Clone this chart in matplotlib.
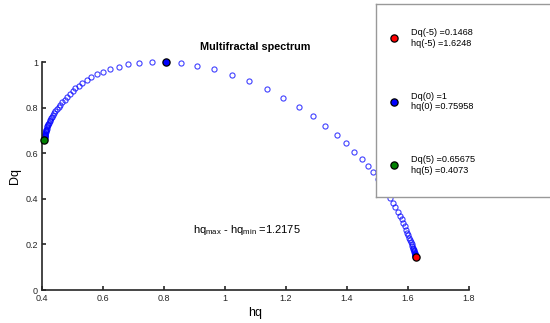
import numpy as np
import matplotlib.pyplot as plt
from matplotlib.ticker import FormatStrFormatter

plt.rcParams['font.family'] = ['Liberation Sans', 'DejaVu Sans']
plt.rcParams['mathtext.fontset'] = 'custom'
plt.rcParams['mathtext.rm'] = 'Liberation Sans'
plt.rcParams['mathtext.it'] = 'Liberation Sans:italic'

# spectrum points, q = -5 ... 5 (step 0.1)
hq = [1.6248, 1.6245, 1.6241, 1.6237, 1.6232, 1.6227, 1.6221, 1.6214, 1.6206, 1.6196,
      1.6185, 1.6172, 1.6157, 1.6140, 1.6121, 1.6099, 1.6074, 1.6046, 1.6013, 1.5977,
      1.5937, 1.5892, 1.5842, 1.5788, 1.5727, 1.5661, 1.5588, 1.5508, 1.5421,
      1.5351, 1.5256, 1.5141, 1.5010, 1.4862, 1.4689, 1.4482, 1.4239, 1.3967, 1.3656,
      1.3289, 1.2885, 1.2426, 1.1911, 1.1377, 1.0803, 1.0230, 0.9649, 0.9082, 0.8548,
      0.8056,
      0.7597,
      0.7190, 0.6836, 0.6525, 0.6239, 0.6010, 0.5793, 0.5616, 0.5466, 0.5321, 0.5203,
      0.5092, 0.5013,
      0.4911, 0.4819, 0.4738, 0.4664, 0.4600, 0.4541, 0.4489, 0.4442, 0.4401, 0.4363,
      0.4331, 0.4301, 0.4275, 0.4251, 0.4230, 0.4211, 0.4195, 0.4180, 0.4167, 0.4155,
      0.4144, 0.4135, 0.4127, 0.4120, 0.4113, 0.4107, 0.4102, 0.4098, 0.4093, 0.4090,
      0.4087, 0.4084, 0.4081, 0.4079, 0.4078, 0.4076, 0.4074, 0.4073]
Dq = [0.1468, 0.1482, 0.1498, 0.1517, 0.1538, 0.1561, 0.1589, 0.1621, 0.1659, 0.1701,
      0.1747, 0.1801, 0.1861, 0.1929, 0.2003, 0.2087, 0.2180, 0.2283, 0.2395, 0.2516,
      0.2646, 0.2786, 0.2935, 0.3093, 0.3261, 0.3438, 0.3625, 0.3820, 0.4025,
      0.4197, 0.4404, 0.4636, 0.4890, 0.5162, 0.5452, 0.5746, 0.6066, 0.6434, 0.6807,
      0.7206, 0.7618, 0.8026, 0.8434, 0.8816, 0.9158, 0.9443, 0.9680, 0.9838, 0.9969,
      0.9995,
      1.0,
      0.9978, 0.9904, 0.9794, 0.9693, 0.9561, 0.9461, 0.9329, 0.9197, 0.9092, 0.8961,
      0.8846, 0.8722,
      0.8590, 0.8466, 0.8348, 0.8236, 0.8131, 0.8031, 0.7936, 0.7847, 0.7762, 0.7682,
      0.7606, 0.7534, 0.7466, 0.7402, 0.7341, 0.7283, 0.7229, 0.7177, 0.7128, 0.7082,
      0.7038, 0.6997, 0.6957, 0.6920, 0.6885, 0.6851, 0.6820, 0.6790, 0.6762, 0.6735,
      0.6710, 0.6686, 0.6663, 0.6642, 0.6622, 0.6602, 0.6584, 0.6567]

# highlighted points (index into arrays) and their legend values
mark_idx = [0, 49, 100]
mark_col = ['red', 'blue', (0, 0.5, 0)]
mark_q = ['-5', '0', '5']
mark_D = ['0.1468', '1', '0.65675']
mark_h = ['1.6248', '0.75958', '0.4073']
width_txt = '1.2175'

W, H = 550, 323
fig = plt.figure(figsize=(W / 100, H / 100), dpi=100)
ax = fig.add_axes([42 / W, 33 / H, 427 / W, 228 / H])

ax.plot(hq, Dq, 'o', color='blue', mfc='none', ms=3.7, mew=0.8, alpha=0.75, clip_on=False)
for i, c in zip(mark_idx, mark_col):
    ax.plot(hq[i], Dq[i], 'o', mfc=c, mec='black', ms=5.2, mew=0.9, clip_on=False, zorder=5)

ax.set_xlim(0.4, 1.8)
ax.set_ylim(0, 1)
ax.set_xticks(np.arange(0.4, 1.81, 0.2))
ax.set_yticks(np.arange(0, 1.01, 0.2))
ax.xaxis.set_major_formatter(FormatStrFormatter('%g'))
ax.yaxis.set_major_formatter(FormatStrFormatter('%g'))
ax.tick_params(direction='in', length=3, width=1.2, labelsize=6.5, colors='#262626', pad=3)
for s in ['top', 'right']:
    ax.spines[s].set_visible(False)
for s in ['left', 'bottom']:
    ax.spines[s].set_linewidth(1.2)
    ax.spines[s].set_color('#262626')
ax.set_xlabel('hq', fontsize=9, labelpad=3)
ax.set_ylabel('Dq', fontsize=9, labelpad=3)

fig.text(255 / W, 1 - 47 / H, 'Multifractal spectrum', ha='center', va='center',
         fontsize=7.8, fontweight='bold')
ax.text(0.895, 0.265, r'hq$_{\mathrm{max}}$ - hq$_{\mathrm{min}}$ =' + width_txt,
        fontsize=8, va='center', ha='left')

# legend box (runs off the right edge)
lax = fig.add_axes([376 / W, 126 / H, 300 / W, 193 / H], zorder=10)
lax.set_xlim(0, 300)
lax.set_ylim(193, 0)
lax.set_xticks([])
lax.set_yticks([])
for s in lax.spines.values():
    s.set_color('#999999')
    s.set_linewidth(1.0)
for k, i in enumerate(mark_idx):
    y = 34 + 63.5 * k
    lax.plot(18, y, 'o', mfc=mark_col[k], mec='black', ms=5.2, mew=0.9)
    lax.text(35, y, 'Dq(%s) =%s\nhq(%s) =%s' % (mark_q[k], mark_D[k], mark_q[k], mark_h[k]),
             fontsize=6.6, va='center', ha='left', linespacing=1.25)

fig.savefig('out.png', dpi=100)
